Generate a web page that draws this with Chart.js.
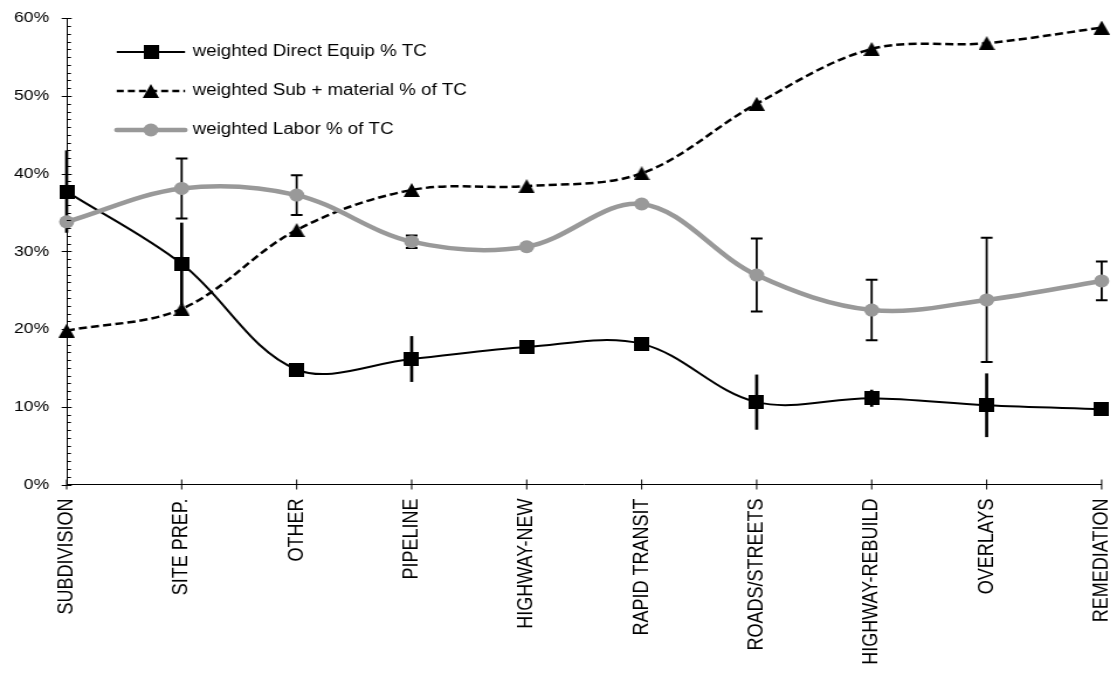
<!DOCTYPE html>
<html>
<head>
<meta charset="utf-8">
<script src="https://cdn.jsdelivr.net/npm/chart.js@4.4.1/dist/chart.umd.min.js"></script>
<style>
  html, body { margin: 0; padding: 0; background: #fff; overflow: hidden; }
  #chart { display: block; width: 1117px; height: 675px; }
</style>
</head>
<body>
<canvas id="chart" width="955" height="675" style="width:1117px;height:675px"></canvas>
<script>
// Category labels (x axis)
const categories = ['SUBDIVISION', 'SITE PREP.', 'OTHER', 'PIPELINE', 'HIGHWAY-NEW',
  'RAPID TRANSIT', 'ROADS/STREETS', 'HIGHWAY-REBUILD', 'OVERLAYS', 'REMEDIATION'];

// Series values, percent of total cost
const directEquip = [37.7, 28.4, 14.8, 16.15, 17.7, 18.1, 10.6, 11.1, 10.2, 9.7];
const directEquipErr = [5.3, 5.3, 0, 2.95, 0, 0, 3.55, 1.1, 4.1, 0];
const subMaterial = [19.8, 22.6, 32.75, 37.9, 38.4, 40.05, 49.0, 56.05, 56.8, 58.8];
const labor = [33.8, 38.1, 37.25, 31.25, 30.6, 36.1, 26.95, 22.45, 23.75, 26.2];
const laborErr = [0, 3.85, 2.55, 0.8, 0, 0, 4.7, 3.9, 8.0, 2.5];

// Legend text
const seriesNames = ['weighted Direct Equip % TC', 'weighted Sub + material % of TC', 'weighted Labor % of TC'];

// Y axis ticks
const yMin = 0, yMax = 60, yStep = 10;

const FONT = "'Liberation Sans', Arial, Helvetica, sans-serif";
const GRAY = '#999999';

function makeMarker(w, h, paint) {
  const c = document.createElement('canvas');
  c.width = w; c.height = h;
  const g = c.getContext('2d');
  g.fillStyle = '#000';
  paint(g, w, h);
  return c;
}
const squareMarker = makeMarker(13, 14, (g, w, h) => g.fillRect(0, 0, w, h));
const triangleMarker = makeMarker(14, 14, (g, w, h) => {
  g.beginPath(); g.moveTo(w / 2, 0); g.lineTo(w, h); g.lineTo(0, h); g.closePath(); g.fill();
});

// Error bars drawn through the chart scales
const errorBars = {
  id: 'errorBars',
  beforeDatasetsDraw(chart) {
    const ctx = chart.ctx;
    const xs = chart.scales.x, ys = chart.scales.y;
    chart.data.datasets.forEach(ds => {
      if (!ds.errors) return;
      ctx.save();
      ctx.strokeStyle = '#000';
      ctx.lineWidth = ds.errorWidth;
      ctx.lineCap = 'butt';
      ds.data.forEach((v, i) => {
        const e = ds.errors[i];
        if (!e) return;
        const x = xs.getPixelForValue(i);
        const yt = ys.getPixelForValue(v + e);
        const yb = ys.getPixelForValue(v - e);
        ctx.beginPath();
        ctx.moveTo(x, yt); ctx.lineTo(x, yb);
        ctx.stroke();
        if (ds.errorCap) {
          ctx.lineWidth = 2;
          ctx.beginPath();
          ctx.moveTo(x - ds.errorCap, yt); ctx.lineTo(x + ds.errorCap, yt);
          ctx.moveTo(x - ds.errorCap, yb); ctx.lineTo(x + ds.errorCap, yb);
          ctx.stroke();
          ctx.lineWidth = ds.errorWidth;
        }
      });
      ctx.restore();
    });
  }
};

// Axis tick marks: major ticks cross the axis, minor ticks inside
const axisTicks = {
  id: 'axisTicks',
  afterDraw(chart) {
    const ctx = chart.ctx;
    const xs = chart.scales.x, ys = chart.scales.y;
    const ax = chart.chartArea.left, ay = chart.chartArea.bottom;
    ctx.save();
    ctx.strokeStyle = '#000';
    ctx.lineWidth = 1;
    ctx.beginPath();
    for (let v = yMin; v <= yMax; v += 1) {
      const y = Math.round(ys.getPixelForValue(v)) + 0.5;
      if (v % yStep === 0) { ctx.moveTo(ax - 4.3, y); ctx.lineTo(ax + 4.3, y); }
      else { ctx.moveTo(ax, y); ctx.lineTo(ax + 3.7, y); }
    }
    categories.forEach((c, i) => {
      const x = xs.getPixelForValue(i);
      ctx.moveTo(x, ay - 5); ctx.lineTo(x, ay + 5);
    });
    ctx.stroke();
    ctx.restore();
  }
};

// Legend inside the plot, upper left
const insideLegend = {
  id: 'insideLegend',
  afterDraw(chart) {
    const ctx = chart.ctx;
    const rows = [52, 91, 130];
    const x0 = 99.8, x1 = 158.2, xm = 129, xt = 164.8;
    ctx.save();
    // Direct equip
    ctx.strokeStyle = '#000'; ctx.lineWidth = 2; ctx.setLineDash([]);
    ctx.beginPath(); ctx.moveTo(x0, rows[0]); ctx.lineTo(x1, rows[0]); ctx.stroke();
    ctx.drawImage(squareMarker, xm - squareMarker.width / 2, rows[0] - squareMarker.height / 2);
    // Sub + material
    ctx.lineWidth = 2.5; ctx.setLineDash([6, 3.5]);
    ctx.beginPath(); ctx.moveTo(x0, rows[1]); ctx.lineTo(x1, rows[1]); ctx.stroke();
    ctx.setLineDash([]);
    ctx.drawImage(triangleMarker, xm - triangleMarker.width / 2, rows[1] - triangleMarker.height / 2);
    // Labor
    ctx.strokeStyle = GRAY; ctx.lineWidth = 4.5; ctx.lineCap = 'round';
    ctx.beginPath(); ctx.moveTo(x0, rows[2]); ctx.lineTo(x1, rows[2]); ctx.stroke();
    ctx.fillStyle = GRAY;
    ctx.beginPath(); ctx.arc(xm, rows[2], 6.5, 0, Math.PI * 2); ctx.fill();
    // Text
    ctx.fillStyle = '#000';
    ctx.font = '16px ' + FONT;
    ctx.textBaseline = 'middle';
    ctx.textAlign = 'left';
    seriesNames.forEach((t, i) => ctx.fillText(t, xt, rows[i]));
    ctx.restore();
  }
};

Chart.defaults.font.family = FONT;
Chart.defaults.color = '#000';

new Chart(document.getElementById('chart'), {
  type: 'line',
  data: {
    labels: categories,
    datasets: [
      {
        label: seriesNames[2],
        data: labor,
        errors: laborErr, errorWidth: 1.8, errorCap: 5,
        borderColor: GRAY, backgroundColor: GRAY,
        borderWidth: 4.5, tension: 0.35,
        pointStyle: 'circle', pointRadius: 6.5, pointBorderWidth: 0,
        pointBackgroundColor: GRAY,
        order: 1, clip: false
      },
      {
        label: seriesNames[1],
        data: subMaterial,
        borderColor: '#000', backgroundColor: '#000',
        borderWidth: 2.5, borderDash: [7, 3.5], tension: 0.35,
        pointStyle: triangleMarker, pointRadius: 7,
        order: 2, clip: false
      },
      {
        label: seriesNames[0],
        data: directEquip,
        errors: directEquipErr, errorWidth: 2.7,
        borderColor: '#000', backgroundColor: '#000',
        borderWidth: 2, tension: 0.35,
        pointStyle: squareMarker, pointRadius: 7,
        order: 3, clip: false
      }
    ]
  },
  options: {
    responsive: false,
    devicePixelRatio: 1,
    animation: false,
    events: [],
    layout: { padding: { top: 18.3, right: 13.1, left: 0, bottom: 0 } },
    plugins: { legend: { display: false }, tooltip: { enabled: false } },
    scales: {
      x: {
        type: 'category',
        offset: false,
        grid: { display: false, drawTicks: false },
        border: { display: true, color: '#000', width: 1 },
        ticks: {
          autoSkip: false, minRotation: 90, maxRotation: 90,
          padding: 14, font: { size: 18 }, color: '#000'
        },
        afterFit(scale) { scale.height = 190.5; scale.paddingLeft = 0; scale.paddingRight = 0; }
      },
      y: {
        min: yMin, max: yMax,
        grid: { display: false, drawTicks: false },
        border: { display: true, color: '#000', width: 1 },
        ticks: {
          stepSize: yStep, padding: 15, font: { size: 15 }, color: '#000',
          callback: v => v + '%'
        },
        afterFit(scale) { scale.width = 57; scale.paddingTop = 0; scale.paddingBottom = 0; }
      }
    }
  },
  plugins: [errorBars, axisTicks, insideLegend]
});
</script>
</body>
</html>
